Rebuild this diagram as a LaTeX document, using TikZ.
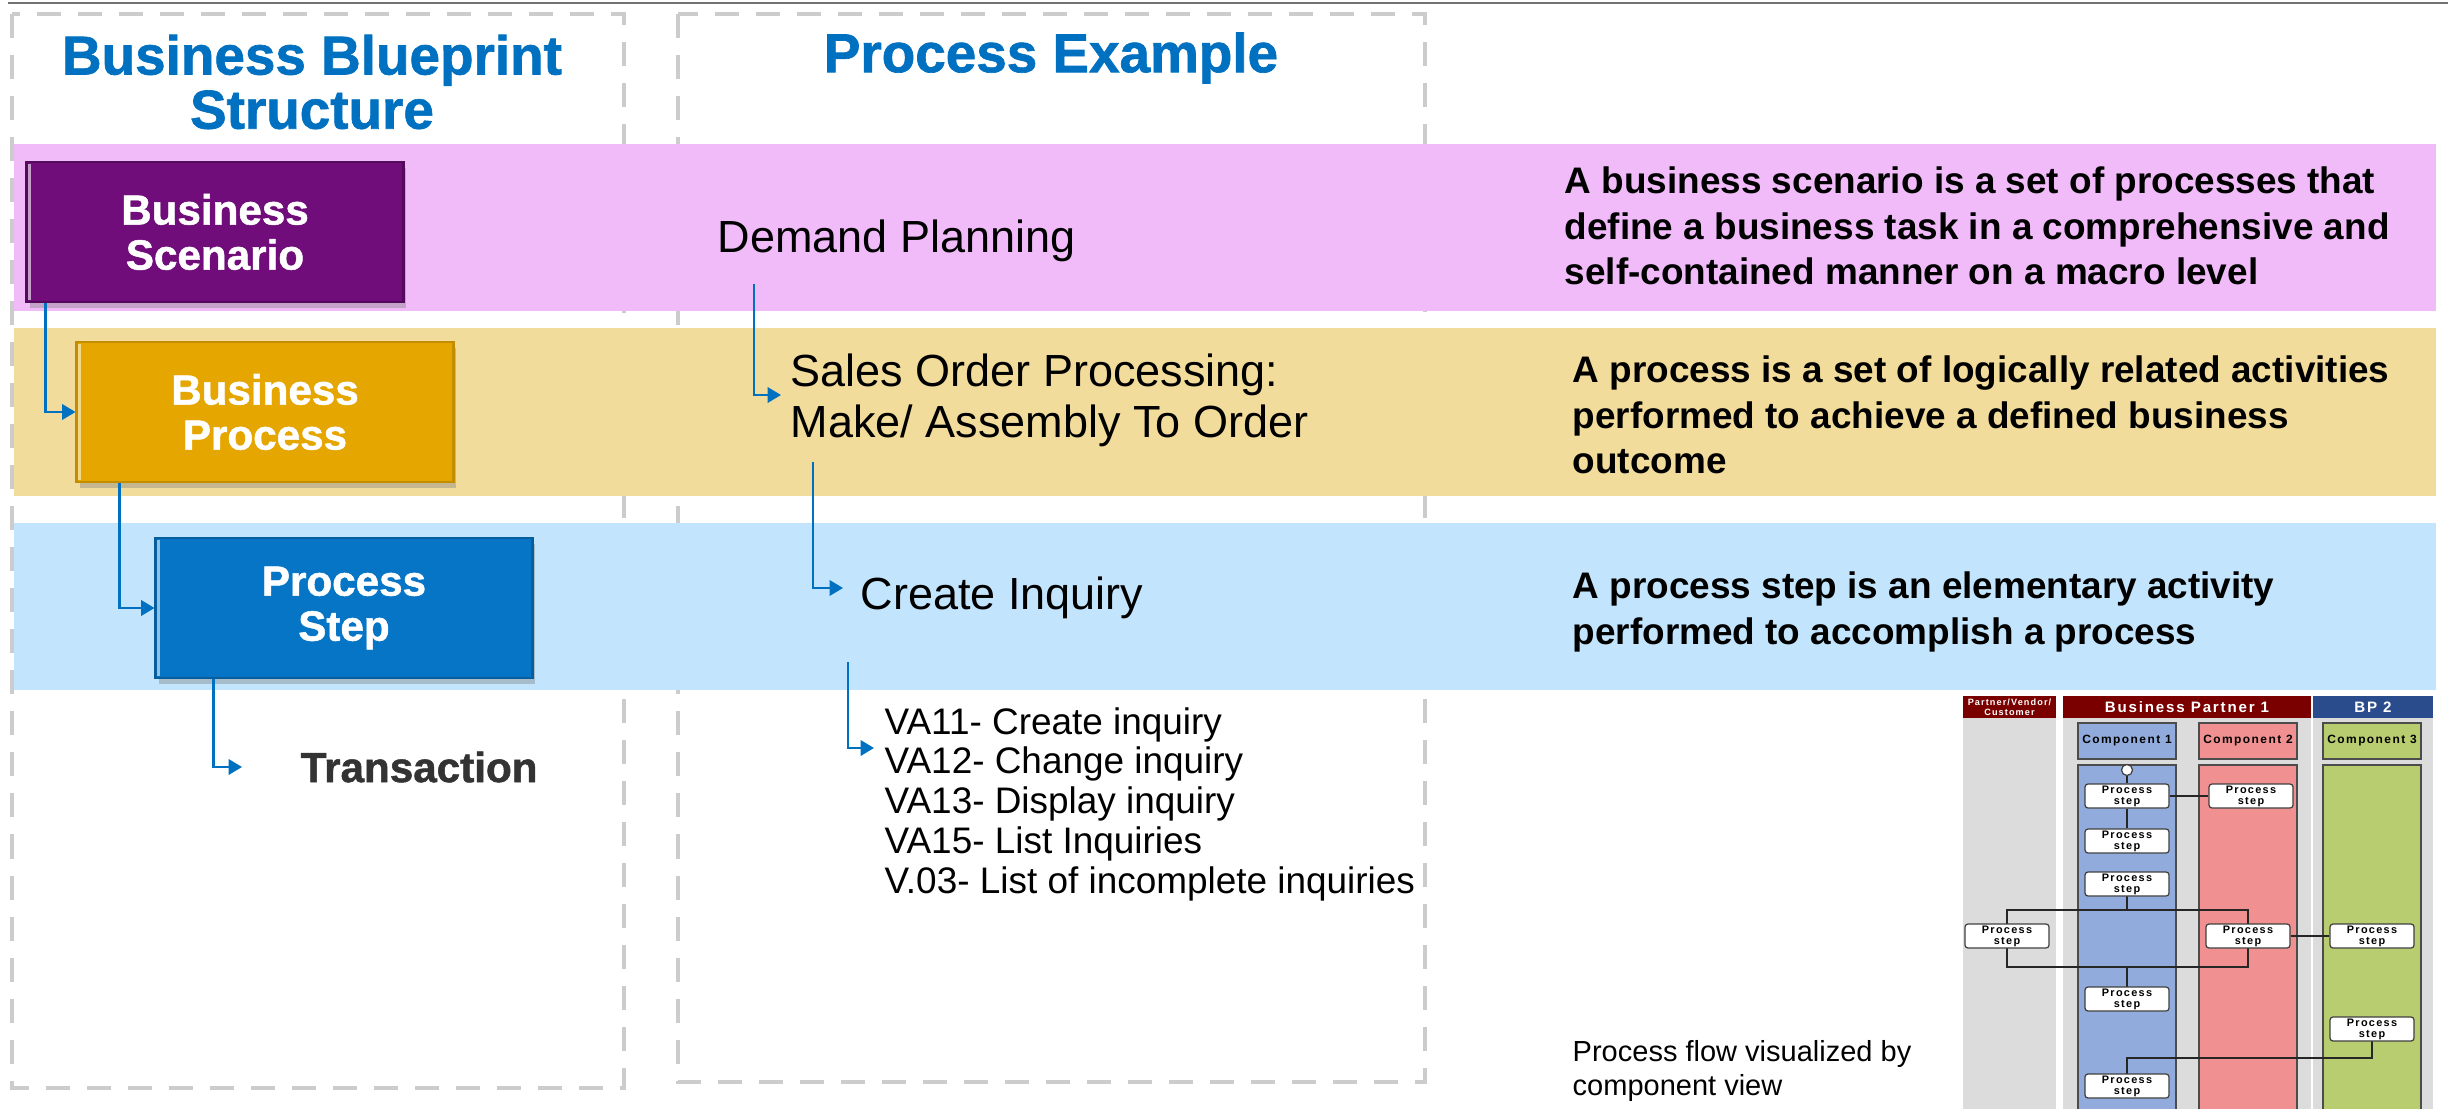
\documentclass[tikz,border=0pt]{standalone}
\usepackage{fontspec}
\setmainfont{Liberation Sans}
\newfontfamily\spaced[LetterSpace=12]{Liberation Sans}
\newfontfamily\heavy[FakeBold=1.2]{Liberation Sans}
\usetikzlibrary{arrows.meta,shadows}
\definecolor{pinkband}{RGB}{240,187,248}
\definecolor{yelband}{RGB}{242,220,155}
\definecolor{bluband}{RGB}{194,228,252}
\definecolor{purbox}{RGB}{113,12,123}
\definecolor{goldbox}{RGB}{229,166,0}
\definecolor{blubox}{RGB}{7,117,198}
\definecolor{titleblue}{RGB}{0,112,192}
\definecolor{connblue}{RGB}{0,112,192}
\definecolor{dashgray}{RGB}{204,204,204}
\definecolor{textdark}{RGB}{51,51,51}
\definecolor{hdrred}{RGB}{122,0,0}
\definecolor{hdrblue}{RGB}{43,76,140}
\definecolor{lanegray}{RGB}{220,220,220}
\definecolor{cblue}{RGB}{145,172,220}
\definecolor{cpink}{RGB}{240,144,144}
\definecolor{cgreen}{RGB}{184,204,112}
\newcommand\fTitle{\heavy\fontsize{15.6pt}{15.4pt}\selectfont\bfseries}
\newcommand\fBox{\heavy\fontsize{12pt}{12.8pt}\selectfont\bfseries}
\newcommand\fMid{\fontsize{12.8pt}{14.5pt}\selectfont}
\newcommand\fDesc{\fontsize{10.5pt}{12.9pt}\selectfont\bfseries}
\newcommand\fVa{\fontsize{10.5pt}{11.3pt}\selectfont}
\newcommand\fNote{\fontsize{8.25pt}{9.7pt}\selectfont}
\newcommand\fStep{\spaced\fontsize{3.1pt}{3.2pt}\selectfont\bfseries}
\newcommand\fComp{\spaced\fontsize{3.4pt}{3.6pt}\selectfont\bfseries}
\newcommand\fHdr{\spaced\fontsize{4.3pt}{4.5pt}\selectfont\bfseries}
\newcommand\fPvc{\spaced\fontsize{2.6pt}{2.85pt}\selectfont\bfseries}
\begin{document}
\begin{tikzpicture}[x=0.01cm,y=-0.01cm,
  dbox/.style={draw=dashgray, line width=1.4pt, dash pattern=on 0.24cm off 0.17cm},
  ttl/.style={font=\fTitle, text=titleblue, align=center, inner sep=0pt},
  bigbox/.style={minimum width=3.76cm, minimum height=1.40cm, inner sep=0pt, text=white, align=center, font=\fBox, line width=0.8pt, drop shadow={shadow xshift=0.03cm, shadow yshift=-0.06cm, opacity=0.4}},
  conn/.style={draw=connblue, line width=0.6pt, -{Triangle[length=3.8pt,width=4.4pt]}},
  mid/.style={anchor=west, inner sep=0pt, font=\fMid, align=left},
  desc/.style={anchor=west, inner sep=0pt, font=\fDesc, align=left},
  hdr/.style={inner sep=0pt, text=white, align=center, minimum height=0.22cm},
  comphdr/.style={draw=black!70, line width=0.4pt, inner sep=0pt, minimum width=0.98cm, minimum height=0.36cm, font=\fComp},
  pstep/.style={draw=black!75, line width=0.35pt, fill=white, rounded corners=0.03cm, minimum width=0.84cm, minimum height=0.24cm, inner sep=0pt, font=\fStep, align=center},
  lane/.style={draw=black!70, line width=0.4pt},
  thinl/.style={draw=black!85, line width=0.35pt}
]
\useasboundingbox (0,0) rectangle (2448,1109);
\fill[white] (0,0) rectangle (2448,1109);
\draw[black!55, line width=0.6pt] (8,3) -- (2448,3);
% dashed column frames
\draw[dbox] (12,14) rectangle (624,1088);
\draw[dbox] (678,14) rectangle (1425,1082);
% bands
\fill[pinkband] (14,144) rectangle (2436,311);
\fill[yelband] (14,328) rectangle (2436,496);
\fill[bluband] (14,523) rectangle (2436,690);
% titles
\node[ttl] (t1) at (312,82) {Business Blueprint\\Structure};
\node[ttl] (t2) at (1051,58) {Process Example};
% hierarchy boxes
\node[bigbox, fill=purbox, draw=purbox!75!black] (bs) at (215,232) {Business\\Scenario};
\node[bigbox, fill=goldbox, draw=goldbox!85!black] (bp) at (265,412) {Business\\Process};
\node[bigbox, fill=blubox, draw=blubox!80!black] (ps) at (344,608) {Process\\Step};
\draw[white!60!purbox, line width=0.8pt] ([xshift=0.04cm,yshift=-0.03cm]bs.north west) -- ([xshift=0.04cm,yshift=0.03cm]bs.south west);
\draw[white!55!goldbox, line width=0.8pt] ([xshift=0.04cm,yshift=-0.03cm]bp.north west) -- ([xshift=0.04cm,yshift=0.03cm]bp.south west);
\draw[white!55!blubox, line width=0.8pt] ([xshift=0.04cm,yshift=-0.03cm]ps.north west) -- ([xshift=0.04cm,yshift=0.03cm]ps.south west);
\node[anchor=west, inner sep=0pt, font=\fBox, text=textdark] (tr) at (300,767) {Transaction};
\coordinate (trin) at (242,767);
\draw[conn] ([xshift=0.2cm]bs.south west) |- (bp.west);
\draw[conn] ([xshift=0.44cm]bp.south west) |- (ps.west);
\draw[conn] ([xshift=0.59cm]ps.south west) |- (trin);
% process example column
\node[mid] (dp) at (717,241) {Demand Planning};
\node[mid] (so) at (790,400) {Sales Order Processing:\\Make/ Assembly To Order};
\node[mid] (ci) at (860,598) {Create Inquiry};
\node[anchor=west, inner sep=0pt, font=\fVa, align=left] (va) at (884,804) {VA11- Create inquiry\\VA12- Change inquiry\\VA13- Display inquiry\\VA15- List Inquiries\\V.03- List of incomplete inquiries};
\coordinate (dpout) at (754,284);
\coordinate (soout) at (813,462);
\coordinate (ciout) at (848,662);
\coordinate (vain) at (874,748);
\draw[conn] (dpout) |- ([xshift=-0.09cm,yshift=0.05cm]so.west);
\draw[conn] (soout) |- ([xshift=-0.17cm,yshift=0.1cm]ci.west);
\draw[conn] (ciout) |- (vain);
% descriptions
\node[desc] (d1) at (1564,226) {A business scenario is a set of processes that\\define a business task in a comprehensive and\\self-contained manner on a macro level};
\node[desc] (d2) at (1572,415) {A process is a set of logically related activities\\performed to achieve a defined business\\outcome};
\node[desc] (d3) at (1572,612) {A process step is an elementary activity\\performed to accomplish a process};
\node[anchor=west, inner sep=0pt, font=\fNote, align=left] (pf) at (1572,1071) {Process flow visualized by\\component view};
% component view
\fill[lanegray] (1963,718) rectangle (2056,1109);
\fill[lanegray] (2063,718) rectangle (2311,1109);
\fill[lanegray] (2313,718) rectangle (2433,1109);
\node[hdr, fill=hdrred, minimum width=0.93cm, font=\fPvc] (hpvc) at (2009.5,707) {Partner/Vendor/\\Customer};
\node[hdr, fill=hdrred, minimum width=2.48cm, font=\fHdr] (hbp1) at (2187,707) {Business Partner 1};
\node[hdr, fill=hdrblue, minimum width=1.20cm, font=\fHdr] (hbp2) at (2373,707) {BP 2};
\node[comphdr, fill=cblue] (c1) at (2127,741) {Component 1};
\node[comphdr, fill=cpink] (c2) at (2248,741) {Component 2};
\node[comphdr, fill=cgreen] (c3) at (2372,741) {Component 3};
\fill[cblue] (2078,765) rectangle (2176,1109);
\fill[cpink] (2199,765) rectangle (2297,1109);
\fill[cgreen] (2323,765) rectangle (2421,1109);
\draw[lane] (2078,1109) |- (2176,765) -- (2176,1109);
\draw[lane] (2199,1109) |- (2297,765) -- (2297,1109);
\draw[lane] (2323,1109) |- (2421,765) -- (2421,1109);
\coordinate (j1) at (2127,910);
\coordinate (j2) at (2127,967);
\coordinate (j3) at (2127,1058);
\draw[thinl] (j1) -- (2127,896);
\draw[thinl] (2007,924) |- (j1) -| (2248,924);
\draw[thinl] (2007,948) |- (j2) -| (2248,948);
\draw[thinl] (j2) -- (2127,987);
\draw[thinl] (2372,1041) |- (j3) -- (2127,1074);
\node[pstep] (s1) at (2127,796) {Process\\step};
\node[pstep] (s2) at (2251,796) {Process\\step};
\node[pstep] (s3) at (2127,841) {Process\\step};
\node[pstep] (s4) at (2127,884) {Process\\step};
\node[pstep] (s5) at (2007,936) {Process\\step};
\node[pstep] (s6) at (2248,936) {Process\\step};
\node[pstep] (s7) at (2372,936) {Process\\step};
\node[pstep] (s8) at (2127,999) {Process\\step};
\node[pstep] (s9) at (2372,1029) {Process\\step};
\node[pstep] (s10) at (2127,1086) {Process\\step};
\node[circle, draw=black!75, line width=0.35pt, fill=white, minimum size=0.11cm, inner sep=0pt] (o) at (2127,770) {};
\draw[thinl] (o) -- (s1);
\draw[thinl] (s1) -- (s2);
\draw[thinl] (s1) -- (s3);
\draw[thinl] (s6) -- (s7);
\end{tikzpicture}
\end{document}
